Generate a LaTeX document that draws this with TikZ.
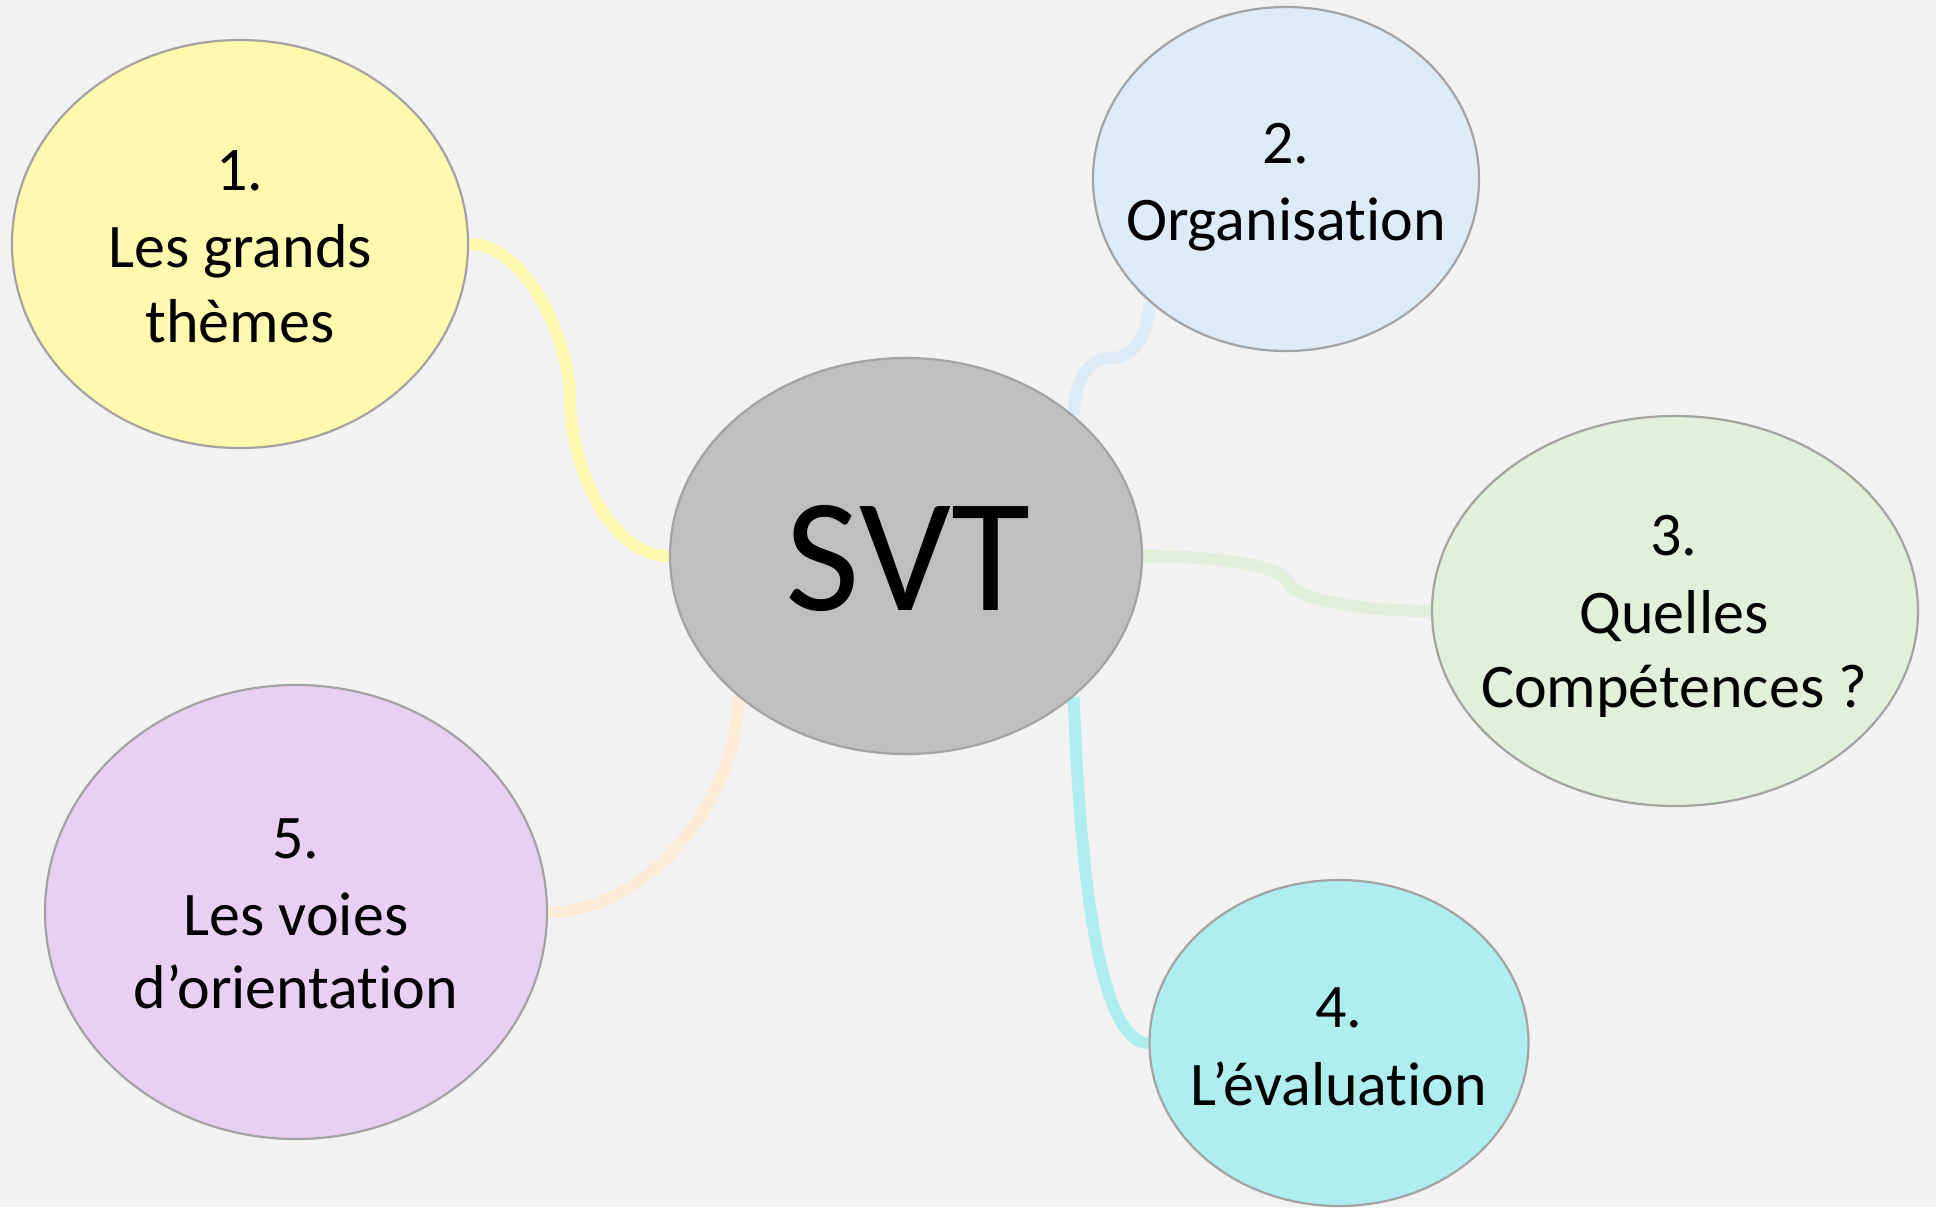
\documentclass[tikz,border=0pt]{standalone}
\usepackage{fontspec}
\setmainfont{Carlito}[Ligatures={NoCommon,NoContextual}]
\usetikzlibrary{shapes.geometric}
\definecolor{bgc}{HTML}{F2F2F2}
\definecolor{outl}{HTML}{A3A3A3}
\definecolor{grayc}{HTML}{BFBFBF}
\definecolor{yelc}{HTML}{FFF9B0}
\definecolor{bluc}{HTML}{DDEBF7}
\definecolor{grnc}{HTML}{E2EFDA}
\definecolor{cync}{HTML}{AFEEEE}
\definecolor{purc}{HTML}{E8D0F5}
\definecolor{pchc}{HTML}{FBEBD7}
\pgfdeclarelayer{back}
\pgfdeclarelayer{links}
\pgfsetlayers{back,links,main}
\begin{document}
\begin{tikzpicture}[x=0.5pt,y=-0.5pt,
  bubble/.style={ellipse, draw=outl, line width=1.1pt, inner sep=0pt},
  link/.style={line width=6pt},
  lbl/.style={anchor=base, inner sep=0pt, font=\fontsize{31}{38}\selectfont, text=black}]
\begin{pgfonlayer}{back}
\fill[bgc] (0,0) rectangle (1936,1207);
\end{pgfonlayer}
\useasboundingbox (0,0) rectangle (1936,1207);

% bubbles
\node[bubble, fill=grayc, minimum width=236pt, minimum height=198pt] (svt) at (906,556) {};
\node[bubble, fill=yelc, minimum width=228pt, minimum height=204pt] (e1) at (240,244) {};
\node[bubble, fill=bluc, minimum width=193pt, minimum height=172pt] (e2) at (1286,179) {};
\node[bubble, fill=grnc, minimum width=243pt, minimum height=195pt] (e3) at (1675,611) {};
\node[bubble, fill=cync, minimum width=189.5pt, minimum height=163pt] (e4) at (1339,1043) {};
\node[bubble, fill=purc, minimum width=251pt, minimum height=227pt] (e5) at (296,912) {};

% connectors
\coordinate (m1) at (570,400);
\coordinate (m2) at (1111,358);
\coordinate (m3) at (1288,582);
\begin{pgfonlayer}{links}
\draw[link, yelc] (e1.east) to[out=0,in=90,looseness=0.8] (m1) to[out=270,in=180,looseness=0.85] (svt.west);
\draw[link, bluc] (svt.40) to[out=90,in=180] (m2) to[out=0,in=270] (e2.222);
\draw[link, grnc] (svt.east) to[out=0,in=110,out distance=40pt,in distance=8pt] (m3) to[out=290,in=180,out distance=8pt,in distance=40pt] (e3.west);
\draw[link, cync] (svt.320) to[out=272,in=180,out distance=127pt,in distance=18pt] (e4.west);
\draw[link, pchc] (svt.220) to[out=270,in=0,looseness=0.9] (e5.east);
\end{pgfonlayer}

% texts
\node[lbl, font=\fontsize{81}{90}\selectfont] (tsvt) at (908,610) {SVT};
\node[lbl] (t1a) at (240,190) {1.};
\node[lbl] (t1b) at (240,267) {Les grands};
\node[lbl] (t1c) at (240,342) {thèmes};
\node[lbl] (t2a) at (1286,163) {2.};
\node[lbl] (t2b) at (1286,240) {Organisation};
\node[lbl] (t3a) at (1674,555) {3.};
\node[lbl] (t3b) at (1674,633) {Quelles};
\node[lbl] (t3c) at (1674,707) {Compétences ?};
\node[lbl] (t4a) at (1339,1027) {4.};
\node[lbl] (t4b) at (1339,1105) {L’évaluation};
\node[lbl] (t5a) at (296,858) {5.};
\node[lbl] (t5b) at (296,935) {Les voies};
\node[lbl] (t5c) at (296,1008) {d’orientation};
\end{tikzpicture}
\end{document}
